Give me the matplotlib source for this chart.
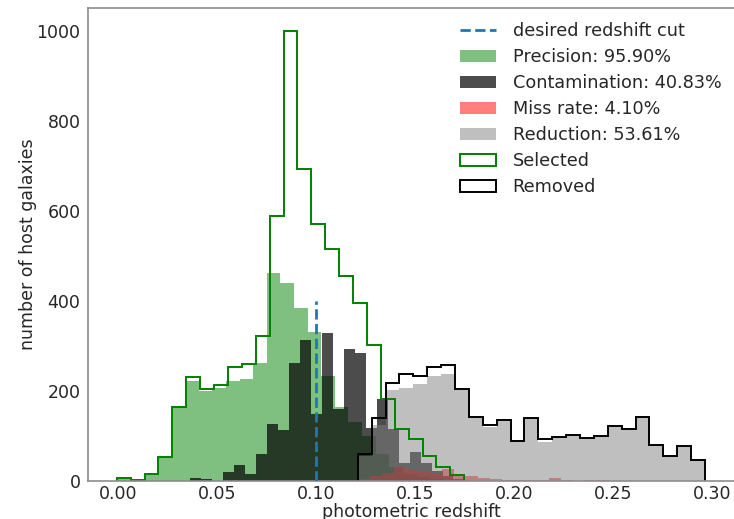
import matplotlib.pyplot as plt
import numpy as np

plt.rcParams['font.family'] = 'DejaVu Sans'
plt.rcParams['font.size'] = 12.5

z_cut = 0.1
cut_height = 400

# photo-z histograms, counts per bin (each sample binned over its own range)
sel_edges = np.linspace(-0.0006, 0.1749, 26)
selected = [7, 3, 16, 53, 165, 230, 204, 213, 253, 260, 322, 589, 1000,
            693, 571, 516, 454, 396, 303, 182, 115, 93, 56, 30, 13]

rem_edges = np.linspace(0.1211, 0.2965, 26)
removed = [60, 140, 218, 238, 232, 252, 258, 205, 142, 124, 136, 89, 140,
           93, 98, 103, 96, 100, 121, 115, 143, 80, 56, 78, 47]
reduction = [55, 125, 202, 206, 215, 233, 238, 201, 139, 120, 136, 89, 140,
             86, 98, 103, 96, 100, 121, 115, 143, 80, 56, 78, 47]

prec_edges = np.linspace(-0.0004, 0.1714, 26)
precision = [7, 3, 16, 53, 165, 222, 200, 206, 222, 227, 262, 461, 439,
             385, 330, 233, 164, 130, 100, 60, 30, 15, 8, 4, 2]

cont_edges = np.linspace(0.0364, 0.175, 26)
contamination = [7, 4, 1, 19, 36, 15, 60, 127, 114, 263, 313, 148, 328,
                 159, 293, 284, 117, 181, 115, 40, 65, 41, 22, 10, 5]

miss_edges = np.linspace(0.1215, 0.29, 29)
miss = [4, 10, 17, 32, 24, 21, 17, 26, 12, 10, 6, 4, 3, 2, 2, 3, 7, 2,
        1, 3, 2, 1, 1, 1, 1, 1, 1, 1]

labels = ['Precision: 95.90%', 'Contamination: 40.83%',
          'Miss rate: 4.10%', 'Reduction: 53.61%']

fig = plt.figure(figsize=(7.34, 5.19), dpi=100)
ax = fig.add_axes([87.5 / 734, 38 / 519, 647 / 734, 473 / 519])

ax.vlines(z_cut, 0, cut_height, colors='tab:blue', linestyles='--',
          linewidth=2, label='desired redshift cut', zorder=5)


def hist(edges, counts, **kw):
    edges = np.asarray(edges)
    centers = 0.5 * (edges[:-1] + edges[1:])
    return ax.hist(centers, bins=edges, weights=counts, **kw)


hist(prec_edges, precision, histtype='stepfilled', color='green', alpha=0.5,
     linewidth=0, label=labels[0])
hist(cont_edges, contamination, histtype='stepfilled', color='k', alpha=0.7,
     linewidth=0, label=labels[1])
hist(miss_edges, miss, histtype='stepfilled', color='red', alpha=0.5,
     linewidth=0, label=labels[2])
hist(rem_edges, reduction, histtype='stepfilled', color='grey', alpha=0.5,
     linewidth=0, label=labels[3])
hist(sel_edges, selected, histtype='step', color='green', linewidth=1.4,
     label='Selected')
hist(rem_edges, removed, histtype='step', color='k', linewidth=1.4,
     label='Removed')

ax.set_xlim(-0.0154, 0.3114)
ax.set_ylim(0, 1050)
ax.set_xticks(np.arange(0, 0.31, 0.05))
ax.xaxis.set_major_formatter(plt.FormatStrFormatter('%.2f'))
ax.tick_params(length=0, colors='#262626')
ax.tick_params(axis='x', pad=3)
ax.tick_params(axis='y', pad=5)
for s in ax.spines.values():
    s.set_color('#8c8c8c')
    s.set_linewidth(1.2)

ax.set_xlabel('photometric redshift', color='#262626', labelpad=0)
ax.set_ylabel('number of host galaxies', color='#262626', labelpad=0)

ax.legend(loc='upper left', frameon=False, fontsize=12.7, labelspacing=0.45,
          handlelength=2.0, handletextpad=0.95, borderaxespad=0.42,
          bbox_to_anchor=(0.5541, 1.0), labelcolor='#262626')

fig.savefig('out.png', dpi=100)
